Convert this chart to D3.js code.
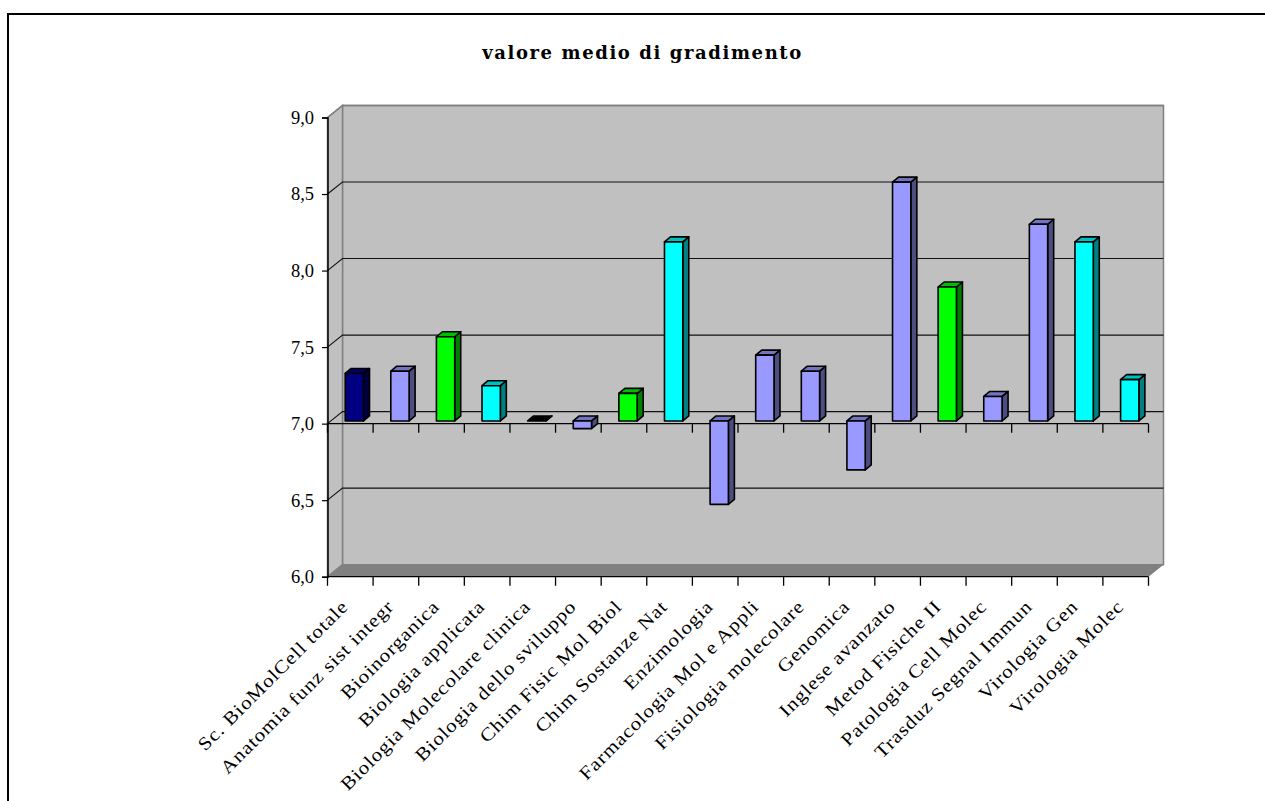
<!DOCTYPE html>
<html><head><meta charset="utf-8">
<script src="https://cdn.jsdelivr.net/npm/d3@7/dist/d3.min.js"></script>
<style>html,body{margin:0;padding:0;background:#fff;overflow:hidden}svg{display:block}
text{font-family:"Liberation Serif",serif;fill:#000}</style></head><body>
<script>
const categories=["Sc. BioMolCell totale","Anatomia funz sist integr","Bioinorganica","Biologia applicata","Biologia Molecolare clinica","Biologia dello sviluppo","Chim Fisic Mol Biol","Chim Sostanze Nat","Enzimologia","Farmacologia Mol e Appli","Fisiologia molecolare","Genomica","Inglese avanzato","Metod Fisiche II","Patologia Cell Molec","Trasduz Segnal Immun","Virologia Gen","Virologia Molec"];
const values=[7.31,7.325,7.55,7.23,7.0,6.95,7.18,8.17,6.455,7.43,7.325,6.68,8.56,7.875,7.16,8.285,8.17,7.27];
const groups=["total","a","b","c","k","a","b","c","a","a","a","a","a","b","a","a","c","c"];
const yTicks=[6,6.5,7,7.5,8,8.5,9];
const title="valore medio di gradimento";
const W=1265,H=801;
const colorOf=d3.scaleOrdinal().domain(["total","a","b","c","k"]).range(["#000080","#9999ff","#00ff00","#00ffff","#000000"]);
const x=d3.scaleBand().domain(categories).range([327.5,1148.5]).padding(0);
const y=d3.scaleLinear().domain([6,9]).range([576.7,117.5]);
const DX=15,DY=-12;
const bw=18.3,bdx=6,bdy=5,ox=17.7,oy=-2.7;
const svg=d3.select("body").append("svg").attr("width",W).attr("height",H);
svg.append("path").attr("d",`M8 ${H+2}V14H${W+2}`).attr("fill","none").attr("stroke","#000").attr("stroke-width",2);
svg.append("text").attr("x",642.5).attr("y",58.5).attr("text-anchor","middle").attr("font-size",18).attr("font-weight","bold").style("font-family",'"DejaVu Serif"').style("letter-spacing","1.6px").text(title);
const L=x.range()[0],R=x.range()[1],T=y(9),B=y(6);
svg.append("path").attr("d",`M${L+DX} ${T+DY}H${R+DX}V${B+DY}H${L+DX}Z`).attr("fill","#c0c0c0").attr("stroke","#808080").attr("stroke-width",1.5);
svg.append("path").attr("d",`M${L} ${T}L${L+DX} ${T+DY}V${B+DY}L${L} ${B}Z`).attr("fill","#c0c0c0").attr("stroke","#808080").attr("stroke-width",1.5);
svg.append("path").attr("d",`M${L} ${B}L${L+DX} ${B+DY}H${R+DX}L${R} ${B}Z`).attr("fill","#808080");
const grid=yTicks.filter(v=>v>6&&v<9);
svg.selectAll(".g").data(grid).join("path").attr("fill","none").attr("stroke","#111").attr("stroke-width",1.1)
 .attr("d",v=>`M${L} ${y(v)}L${L+DX} ${y(v)+DY}H${R+DX}`);
svg.append("path").attr("d",`M${L} ${T}L${L+DX} ${T+DY}H${R+DX}`).attr("fill","none").attr("stroke","#808080").attr("stroke-width",1.5);
const yAxis=d3.axisLeft(y).tickValues(yTicks).tickSize(5.5).tickFormat(d=>d3.format(".1f")(d).replace(".",","));
const ya=svg.append("g").attr("transform",`translate(${L},0)`).call(yAxis);
ya.selectAll("path").attr("stroke","#000").attr("stroke-width",1.5);
ya.selectAll("line").attr("stroke","#000").attr("stroke-width",1.2);
ya.selectAll("text").attr("font-size",18.5).attr("x",-13.5).style("font-family",'"Liberation Serif"');
function xTicks(yp){svg.append("path").attr("d",`M${L} ${yp}H${R}`+d3.range(categories.length+1).map(i=>`M${L+i*x.bandwidth()} ${yp}v9`).join("")).attr("fill","none").attr("stroke","#000").attr("stroke-width",1.3);}
xTicks(y(7));xTicks(B);
const base=y(7)+oy;
const bars=svg.selectAll(".b").data(categories).join("g").attr("stroke","#000").attr("stroke-width",1.6).attr("stroke-linejoin","round");
bars.each(function(c,i){
 const g=d3.select(this),v=values[i],x0=x(c)+ox,yv=y(v)+oy,top=Math.min(yv,base),bot=Math.max(yv,base),col=d3.color(colorOf(groups[i]));
 const sc=k=>d3.rgb(col.r*k,col.g*k,col.b*k);
 g.append("path").attr("d",`M${x0+bw} ${top}l${bdx} ${-bdy}V${bot-bdy}l${-bdx} ${bdy}Z`).attr("fill",sc(.5));
 g.append("path").attr("d",`M${x0} ${top}l${bdx} ${-bdy}h${bw}l${-bdx} ${bdy}Z`).attr("fill",sc(.75));
 g.append("rect").attr("x",x0).attr("y",top).attr("width",bw).attr("height",bot-top).attr("fill",col);
});
svg.selectAll(".l").data(categories).join("text").attr("font-size",18.5).attr("text-anchor","end").style("letter-spacing","0.8px")
 .attr("transform",c=>`translate(${x(c)+x.bandwidth()/2-1},${B+31}) rotate(-45) scale(1.14,1)`).text(c=>c);
</script></body></html>
